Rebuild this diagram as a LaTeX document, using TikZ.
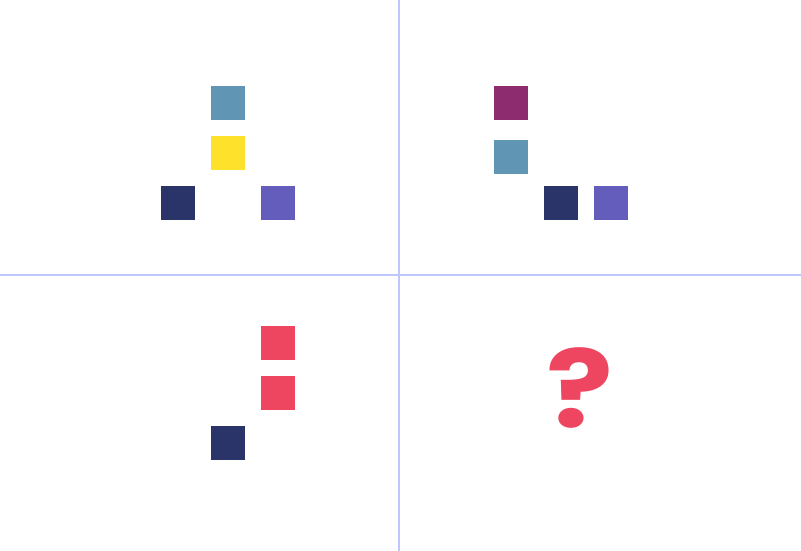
\documentclass[tikz,border=0pt]{standalone}
\usepackage{fontspec}
\newfontfamily\qfont{Poppins}
\definecolor{gridc}{RGB}{190,200,255}
\definecolor{cteal}{HTML}{6096B4}
\definecolor{cyellow}{HTML}{FDE12A}
\definecolor{cnavy}{HTML}{2A3468}
\definecolor{cpurple}{HTML}{645DBB}
\definecolor{cmagenta}{HTML}{8E2C70}
\definecolor{cred}{HTML}{EE4560}
\tikzset{sq/.style={fill=#1, draw=none, minimum size=34pt, inner sep=0pt, outer sep=0pt}}
\begin{document}
\begin{tikzpicture}[x=1pt,y=-1pt]
\useasboundingbox (0,0) rectangle (801,551);
\coordinate (vt) at (399,0);
\coordinate (vb) at (399,551);
\coordinate (hl) at (0,275);
\coordinate (hr) at (801,275);
\draw[gridc, line width=2pt] (vt) -- (vb);
\draw[gridc, line width=2pt] (hl) -- (hr);
% top left
\node[sq=cteal] (a1) at (228,103) {};
\node[sq=cyellow] (a2) at (228,153) {};
\node[sq=cnavy] (a3) at (178,203) {};
\node[sq=cpurple] (a4) at (278,203) {};
% top right
\node[sq=cmagenta] (b1) at (511,103) {};
\node[sq=cteal] (b2) at (511,157) {};
\node[sq=cnavy] (b3) at (561,203) {};
\node[sq=cpurple] (b4) at (611,203) {};
% bottom left
\node[sq=cred] (c1) at (278,343) {};
\node[sq=cred] (c2) at (278,393) {};
\node[sq=cnavy] (c3) at (228,443) {};
% question
\node[text=cred, inner sep=0pt, xscale=1.13, yscale=0.98, font=\qfont\bfseries\fontsize{110}{110}\selectfont] (q) at (580,388) {?};
\end{tikzpicture}
\end{document}
